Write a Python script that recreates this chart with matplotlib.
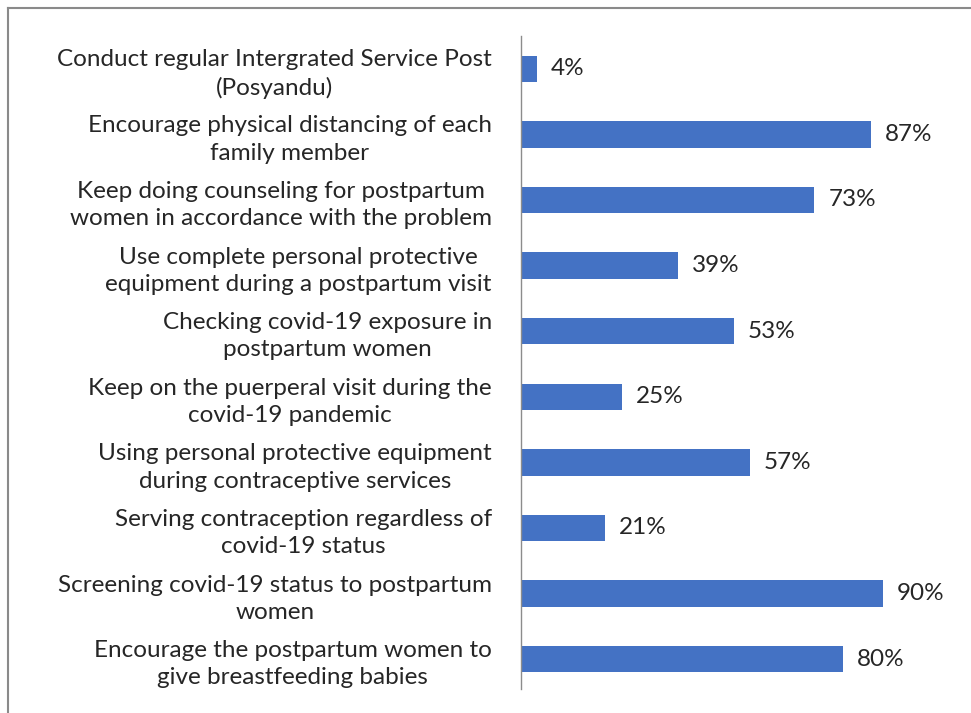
import matplotlib
matplotlib.use("Agg")
import matplotlib.pyplot as plt
from matplotlib.lines import Line2D

categories = [
    "Conduct regular Intergrated Service Post\n(Posyandu)",
    "Encourage physical distancing of each\nfamily member",
    "Keep doing counseling for postpartum\nwomen in accordance with the problem",
    "Use complete personal protective\nequipment during a postpartum visit",
    "Checking covid-19 exposure in\npostpartum women",
    "Keep on the puerperal visit during the\ncovid-19 pandemic",
    "Using personal protective equipment\nduring contraceptive services",
    "Serving contraception regardless of\ncovid-19 status",
    "Screening covid-19 status to postpartum\nwomen",
    "Encourage the postpartum women to\ngive breastfeeding babies",
]
values = [4, 87, 73, 39, 53, 25, 57, 21, 90, 80]

plt.rcParams['font.family'] = ['Lato', 'DejaVu Sans']

W, H = 971, 713
fig = plt.figure(figsize=(W / 100, H / 100), dpi=100)
top_px, bot_px = 36, 692
ax = fig.add_axes([521 / W, 1 - bot_px / H, (923 - 521) / W, (bot_px - top_px) / H])

ypos = list(range(len(categories)))
ax.barh(ypos, values, height=0.4, color='#4472C4')
ax.set_ylim(len(categories) - 0.5, -0.5)
ax.set_xlim(0, 100)
ax.set_yticks(ypos)
ax.set_yticklabels(categories, fontsize=17.5, color='#262626',
                   multialignment='center', linespacing=1.36)
ax.tick_params(axis='y', length=0, pad=21)
ax.set_xticks([])
for s in ['top', 'right', 'bottom']:
    ax.spines[s].set_visible(False)
ax.spines['left'].set_color('#8c8c8c')
ax.spines['left'].set_linewidth(1.0)
ax.spines['left'].set_bounds(-0.05 + len(categories) - 0.5, -0.5)

for y, v in zip(ypos, values):
    ax.annotate(f"{v}%", (v, y), xytext=(10, 0), textcoords='offset points',
                va='center', ha='left', fontsize=17.5, color='#262626')

# outer frame (top and left)
fig.add_artist(Line2D([8 / W, 1.0], [1 - 8 / H, 1 - 8 / H], transform=fig.transFigure,
                      color='#8a8a8a', lw=1.5))
fig.add_artist(Line2D([8 / W, 8 / W], [0, 1 - 8 / H], transform=fig.transFigure,
                      color='#8a8a8a', lw=1.5))

fig.savefig("out.png", dpi=100)
